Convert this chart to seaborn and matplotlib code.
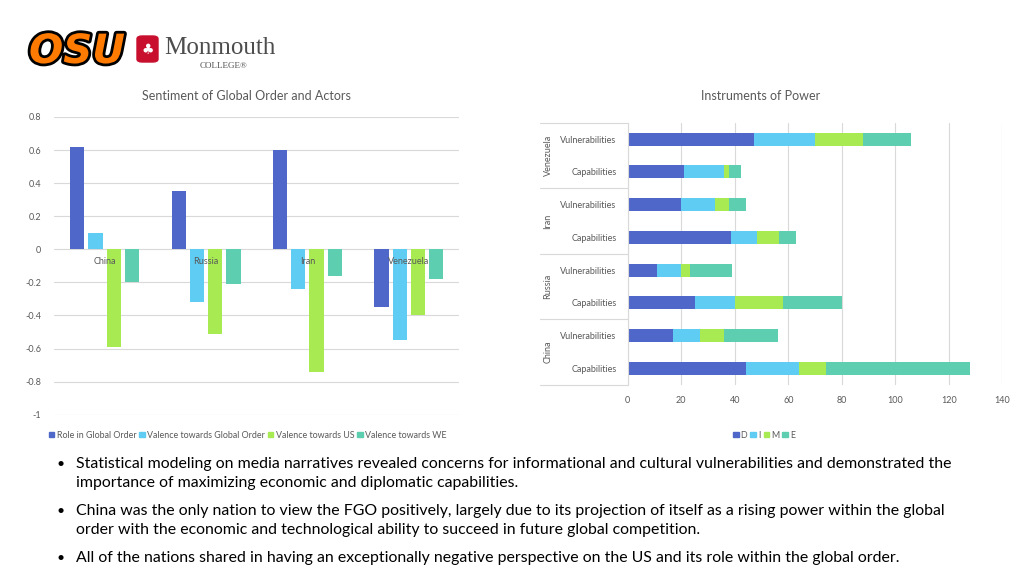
import numpy as np
import pandas as pd
import seaborn as sns
import matplotlib.pyplot as plt
import matplotlib.patheffects as pe
from matplotlib.patches import Patch, FancyBboxPatch
import matplotlib.transforms as mtransforms

# --- data: sentiment chart ---
countries = ["China", "Russia", "Iran", "Venezuela"]
sentiment_series = ["Role in Global Order", "Valence towards Global Order",
                    "Valence towards US", "Valence towards WE"]
role_global_order = [0.62, 0.35, 0.60, -0.35]
valence_global_order = [0.10, -0.32, -0.24, -0.55]
valence_us = [-0.59, -0.51, -0.74, -0.40]
valence_we = [-0.20, -0.21, -0.16, -0.18]

# --- data: instruments of power (top to bottom) ---
iop_countries = ["Venezuela", "Venezuela", "Iran", "Iran", "Russia", "Russia", "China", "China"]
iop_kinds = ["Vulnerabilities", "Capabilities"] * 4
dime_names = ["D", "I", "M", "E"]
dime_d = [47, 21, 20, 38.7, 11, 25, 17, 44]
dime_i = [23, 15, 12.7, 9.7, 9, 15, 10, 20]
dime_m = [18, 1.7, 5.3, 8.3, 3.1, 18, 9, 10]
dime_e = [18, 4.6, 6, 6, 15.9, 22, 20, 54]

colors = ["#4E67C8", "#5ECCF3", "#A7EA52", "#5DCEAF"]
text_gray = "#595959"
grid_gray = "#D9D9D9"

sns.set_style("white")
plt.rcParams["font.family"] = ["Lato", "DejaVu Sans"]

fig = plt.figure(figsize=(10.24, 5.76), dpi=100)

# ---------------- left chart ----------------
ax1 = fig.add_axes([0.0527, 0.280, 0.396, 0.517])
sent = pd.DataFrame({
    "country": countries * 4,
    "series": np.repeat(sentiment_series, 4),
    "value": role_global_order + valence_global_order + valence_us + valence_we,
})
sns.barplot(data=sent, x="country", y="value", hue="series", hue_order=sentiment_series,
            order=countries, palette=colors, saturation=1, width=0.72, gap=0.22,
            errorbar=None, legend=False, linewidth=0, ax=ax1)
ax1.set_ylim(-1, 0.8)
ax1.set_xlim(-0.5, 3.5)
ax1.set_yticks(np.round(np.arange(-1, 0.81, 0.2), 1))
ax1.set_yticklabels(["-1", "-0.8", "-0.6", "-0.4", "-0.2", "0", "0.2", "0.4", "0.6", "0.8"])
ax1.yaxis.grid(True, color=grid_gray, lw=0.8)
ax1.set_axisbelow(True)
for s in ax1.spines.values():
    s.set_visible(False)
ax1.tick_params(axis="y", length=0, pad=9, labelsize=6.5, labelcolor=text_gray)
ax1.set_xticks([])
ax1.set_xlabel("")
ax1.set_ylabel("")
# category labels sit just under the zero line, on top of the bars
for i, name in enumerate(countries):
    ax1.text(i, -0.045, name, ha="center", va="top", fontsize=6.5, color=text_gray, zorder=10)
fig.text(0.241, 1 - 96 / 576, "Sentiment of Global Order and Actors", ha="center", va="center",
         fontsize=9, color=text_gray)
fig.legend(handles=[Patch(color=c, label=l) for c, l in zip(colors, sentiment_series)],
           loc="center left", bbox_to_anchor=(0.048, 1 - 435 / 576), ncol=4, frameon=False,
           fontsize=6.4, handlelength=0.6, handleheight=0.6, handletextpad=0.25,
           columnspacing=0.35, labelcolor=text_gray, borderpad=0, borderaxespad=0)

# ---------------- right chart ----------------
ax2 = fig.add_axes([0.613, 0.332, 0.366, 0.455])
keys = [f"{c}|{k}" for c, k in zip(iop_countries, iop_kinds)]
iop = pd.DataFrame({"key": keys, "D": dime_d, "I": dime_i, "M": dime_m, "E": dime_e})
cum = iop[dime_names].cumsum(axis=1)
cum["key"] = keys
# draw cumulative totals from largest to smallest so the segments stack
for name, c in reversed(list(zip(dime_names, colors))):
    sns.barplot(data=cum, x=name, y="key", order=keys, color=c, saturation=1, orient="h",
                width=0.4, linewidth=0, errorbar=None, ax=ax2)
ax2.set_xlim(0, 140)
ax2.set_ylim(7.5, -0.5)
ax2.set_xticks(range(0, 141, 20))
ax2.xaxis.grid(True, color=grid_gray, lw=0.8)
ax2.set_axisbelow(True)
for s in ax2.spines.values():
    s.set_visible(False)
ax2.spines["left"].set_visible(True)
ax2.spines["left"].set_color(grid_gray)
ax2.spines["left"].set_linewidth(0.8)
ax2.set_yticks(range(len(keys)))
ax2.set_yticklabels(iop_kinds)
ax2.tick_params(axis="y", length=0, pad=8, labelsize=6.5, labelcolor=text_gray)
ax2.tick_params(axis="x", length=0, pad=8, labelsize=6.5, labelcolor=text_gray)
ax2.set_xlabel("")
ax2.set_ylabel("")
trans = mtransforms.blended_transform_factory(ax2.transAxes, ax2.transData)
for b in [-0.5, 1.5, 3.5, 5.5, 7.5]:
    ax2.plot([-0.234, 0], [b, b], color=grid_gray, lw=0.8, transform=trans, clip_on=False)
for gi, name in enumerate(["Venezuela", "Iran", "Russia", "China"]):
    ax2.text(-0.2125, 2 * gi + 0.5, name, rotation=90, ha="center", va="center",
             fontsize=6.5, color=text_gray, transform=trans)
fig.text(0.743, 1 - 96 / 576, "Instruments of Power", ha="center", va="center",
         fontsize=9, color=text_gray)
fig.legend(handles=[Patch(color=c, label=l) for c, l in zip(colors, dime_names)],
           loc="center left", bbox_to_anchor=(0.716, 1 - 435 / 576), ncol=4, frameon=False,
           fontsize=6.4, handlelength=0.6, handleheight=0.6, handletextpad=0.25,
           columnspacing=0.35, labelcolor=text_gray, borderpad=0, borderaxespad=0)

# ---------------- logos (approximate) ----------------
fig.text(29 / 1024, 1 - 52 / 576, "OSU", fontsize=29, fontweight="heavy", style="italic",
         color="#FF7A00", ha="left", va="center", family="DejaVu Sans",
         path_effects=[pe.withStroke(linewidth=4, foreground="black")])
fig.patches.append(FancyBboxPatch((137 / 1024, 1 - 62 / 576), 21 / 1024, 26 / 576,
                                  boxstyle="round,pad=0,rounding_size=0.005",
                                  transform=fig.transFigure, color="#C8102E"))
fig.text(147.5 / 1024, 1 - 50 / 576, "♣", fontsize=10, color="white", ha="center",
         va="center", family="DejaVu Sans")
fig.text(164 / 1024, 1 - 48 / 576, "Monmouth", fontsize=18, color="#4D4D4D",
         ha="left", va="center", family="Liberation Serif")
fig.text(224 / 1024, 1 - 66 / 576, "COLLEGE®", fontsize=6.5, color="#4D4D4D",
         ha="center", va="center", family="Liberation Serif")

# ---------------- bullet text ----------------
bullets = [
    (464, "•", "Statistical modeling on media narratives revealed concerns for informational and cultural vulnerabilities and demonstrated the"),
    (483, "", "importance of maximizing economic and diplomatic capabilities."),
    (511, "•", "China was the only nation to view the FGO positively, largely due to its projection of itself as a rising power within the global"),
    (530, "", "order with the economic and technological ability to succeed in future global competition."),
    (558, "•", "All of the nations shared in having an exceptionally negative perspective on the US and its role within the global order."),
]
for y, mark, line in bullets:
    if mark:
        fig.text(57 / 1024, 1 - y / 576, mark, fontsize=10, color="black", va="center")
    fig.text(76 / 1024, 1 - y / 576, line, fontsize=11.4, color="black", va="center")

fig.savefig("out.png", dpi=100, facecolor="white")
